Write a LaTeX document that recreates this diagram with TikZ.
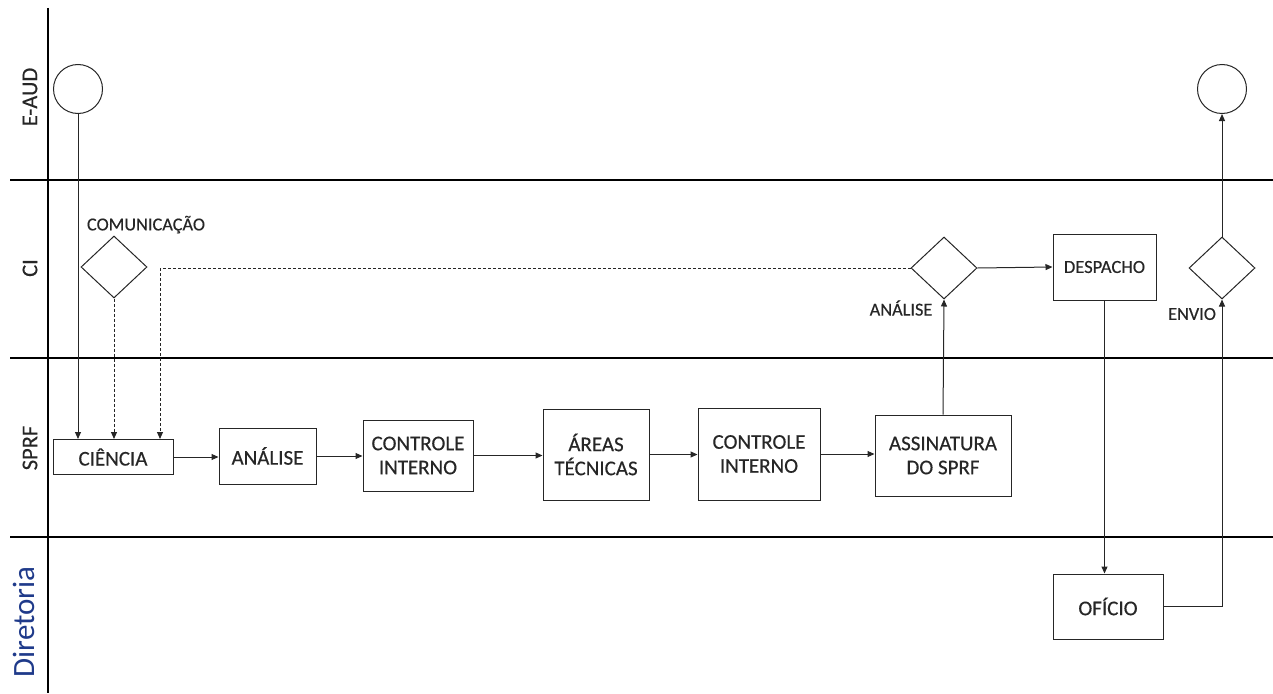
\documentclass[tikz,border=0pt]{standalone}
\usepackage{fontspec}
\setmainfont{Carlito}[FakeBold=0.35]
\newfontfamily\lightfont{Carlito}
\usetikzlibrary{shapes.geometric,arrows.meta}
\definecolor{ink}{HTML}{262626}
\definecolor{lanelabel}{HTML}{1F3A8A}
\begin{document}
\begin{tikzpicture}[x=1pt,y=-1pt,
  every node/.style={font=\fontsize{18.3}{21}\selectfont, text=ink},
  boxfont/.style={font=\fontsize{21}{24}\selectfont},
  lane/.style={line width=1.6pt, black},
  flow/.style={line width=1pt, ink},
  arr/.style={flow, -{Triangle[length=7pt,width=6pt]}},
  darr/.style={arr, dashed, dash pattern=on 3pt off 2pt},
  task/.style={draw=ink, line width=1pt, rectangle, inner sep=0pt, align=center, boxfont},
  gate/.style={draw=ink, line width=1pt, diamond, inner sep=0pt, minimum width=66pt, minimum height=62pt},
  event/.style={draw=ink, line width=1pt, circle, inner sep=0pt, minimum size=49pt},
  lanetitle/.style={rotate=90, font=\fontsize{22.5}{26}\selectfont}
]
\useasboundingbox (0,0) rectangle (1273,693);

% swimlane frame
\draw[lane] (48,8) -- (48,693);
\draw[lane] (10,180) -- (1273,180);
\draw[lane] (10,358) -- (1273,358);
\draw[lane] (10,537) -- (1273,537);

% lane titles
\node[lanetitle] (lE) at (30,97) {E-AUD};
\node[lanetitle] (lC) at (30,268) {CI};
\node[lanetitle] (lS) at (30,448) {SPRF};
\node[lanetitle, font=\lightfont\fontsize{31}{34}\selectfont, text=lanelabel] (lD) at (24,622) {Diretoria};

% events
\node[event] (start) at (78,89) {};
\node[event] (finish) at (1222,89) {};

% gateways
\node[gate] (com) at (114,267) {};
\node[anchor=south] (comlbl) at (146,237) {COMUNICAÇÃO};
\node[gate] (an) at (944,268) {};
\node (anlbl) at (901,308) {ANÁLISE};
\node[gate] (env) at (1222,268) {};
\node (envlbl) at (1192,314) {ENVIO};

% tasks
\node[task, minimum width=120pt, minimum height=35pt] (cien) at (113,457) {CIÊNCIA};
\node[task, minimum width=97pt, minimum height=56pt] (ana) at (267.5,456) {ANÁLISE};
\node[task, minimum width=110pt, minimum height=71pt] (ci1) at (418,455.5) {CONTROLE\\INTERNO};
\node[task, minimum width=106pt, minimum height=91pt] (area) at (596,454.5) {ÁREAS\\TÉCNICAS};
\node[task, minimum width=122pt, minimum height=92pt] (ci2) at (759,454) {CONTROLE\\INTERNO};
\node[task, minimum width=136pt, minimum height=81pt] (ass) at (943,455.5) {ASSINATURA\\DO SPRF};
\node[task, minimum width=103pt, minimum height=66pt, font=\fontsize{18.5}{21}\selectfont] (desp) at (1104.5,267) {DESPACHO};
\node[task, minimum width=110pt, minimum height=65pt] (ofi) at (1108,606.5) {OFÍCIO};

% helper for the dashed return path
\coordinate (ret) at (160,268);

% connectors
\draw[arr] (start.south) -- (start.south |- cien.north);
\draw[darr] (com.south) -- (com.south |- cien.north);
\draw[flow, dashed, dash pattern=on 3pt off 2pt] (an.west) -- (ret);
\draw[darr] (ret) -- (ret |- cien.north);

\draw[arr] (cien.east) -- (cien.east -| ana.west);
\draw[arr] (ana.east) -- (ana.east -| ci1.west);
\draw[arr] (ci1.east) -- (ci1.east -| area.west);
\draw[arr] (area.east) -- (area.east -| ci2.west);
\draw[arr] (ci2.east) -- (ci2.east -| ass.west);

\draw[arr] (ass.north) -- (an.south);
\draw[arr] (an.east) -- (desp.west);
\draw[arr] (desp.south) -- (desp.south |- ofi.north);
\draw[arr] (ofi.east) -| (env.south);
\draw[arr] (env.north) -- (finish.south);
\end{tikzpicture}
\end{document}
